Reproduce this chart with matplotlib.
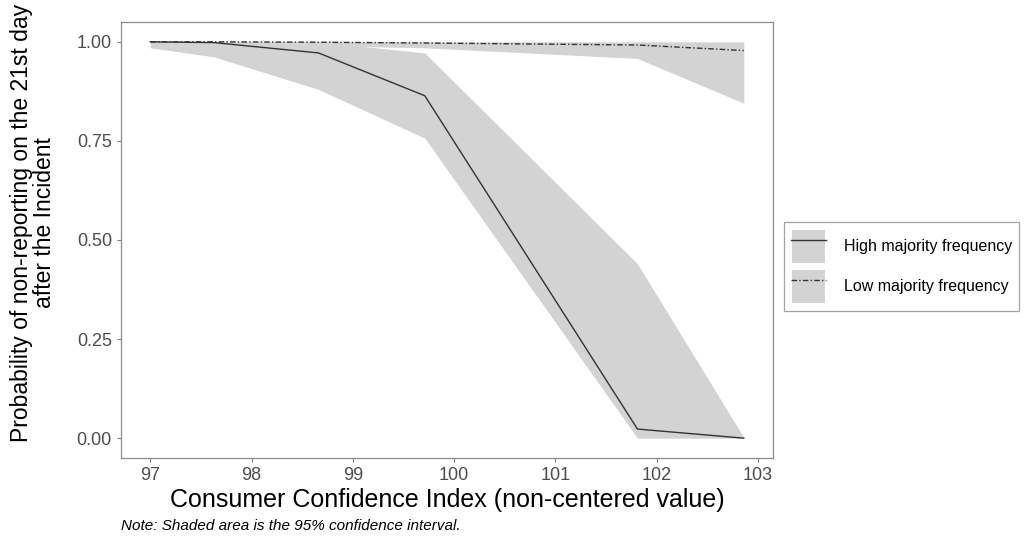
import matplotlib
matplotlib.use("Agg")
from matplotlib import pyplot as plt
from matplotlib.patches import Patch
from matplotlib.lines import Line2D

# Consumer confidence index values where predictions were evaluated
cci = [97.0, 97.63, 98.66, 99.71, 101.81, 102.86]

# High majority frequency: prediction and 95% CI
high_pred = [1.0, 0.998, 0.972, 0.864, 0.023, 0.0]
high_lower = [0.985, 0.962, 0.88, 0.757, 0.0, 0.0]
high_upper = [1.0, 1.0, 1.0, 0.972, 0.44, 0.002]

# Low majority frequency: prediction and 95% CI
low_pred = [1.0, 1.0, 0.999, 0.997, 0.992, 0.978]
low_lower = [0.997, 0.995, 0.99, 0.985, 0.958, 0.845]
low_upper = [1.0, 1.0, 1.0, 1.0, 1.0, 1.0]

x_ticks = [97, 98, 99, 100, 101, 102, 103]
y_ticks = [0.0, 0.25, 0.5, 0.75, 1.0]
y_ticklabels = ["0.00", "0.25", "0.50", "0.75", "1.00"]

plt.rcParams["font.family"] = ["Liberation Sans", "DejaVu Sans"]

SHADE = "#d3d3d3"
DOTDASH = (0, (4, 1.6, 1, 1.6))

fig = plt.figure(figsize=(10.32, 5.42), dpi=100)
ax = fig.add_axes([0.1172, 0.155, 0.632, 0.8044])

ax.fill_between(cci, high_lower, high_upper, color=SHADE, lw=0)
ax.fill_between(cci, low_lower, low_upper, color=SHADE, lw=0)
ax.plot(cci, high_pred, color="#333333", lw=1.0, ls="-")
ax.plot(cci, low_pred, color="#333333", lw=1.0, ls=DOTDASH)

ax.set_xlim(96.71, 103.15)
ax.set_ylim(-0.05, 1.05)
ax.set_xticks(x_ticks)
ax.set_xticklabels([str(t) for t in x_ticks])
ax.set_yticks(y_ticks)
ax.set_yticklabels(y_ticklabels)
ax.tick_params(labelsize=13, colors="#7f7f7f", labelcolor="#4d4d4d",
               length=3, width=0.8)
for side in ax.spines.values():
    side.set_color("#8c8c8c")
    side.set_linewidth(0.9)

ax.set_xlabel("Consumer Confidence Index (non-centered value)",
              fontsize=18, labelpad=3)
ax.set_ylabel("Probability of non-reporting on the 21st day\nafter the Incident",
              fontsize=16.5, linespacing=1.0)
ax.yaxis.set_label_coords(-0.1, 0.54)

fig.text(0.117, 0.022, "Note: Shaded area is the 95% confidence interval.",
         fontsize=11, style="italic", color="black")

handles = [(Patch(facecolor=SHADE, edgecolor="white", lw=1.5),
            Line2D([], [], color="#333333", lw=1.0)),
           (Patch(facecolor=SHADE, edgecolor="white", lw=1.5),
            Line2D([], [], color="#333333", lw=1.0, ls=DOTDASH))]
leg = fig.legend(handles, ["High majority frequency", "Low majority frequency"],
                 loc="center left", bbox_to_anchor=(0.752, 0.508),
                 fontsize=11.5, frameon=True, fancybox=False,
                 handlelength=2.2, handleheight=3.0, labelspacing=0.3,
                 borderpad=0.45, handletextpad=1.1)
leg.get_frame().set_edgecolor("#8c8c8c")
leg.get_frame().set_linewidth(0.9)

fig.savefig("out.png", dpi=100)
